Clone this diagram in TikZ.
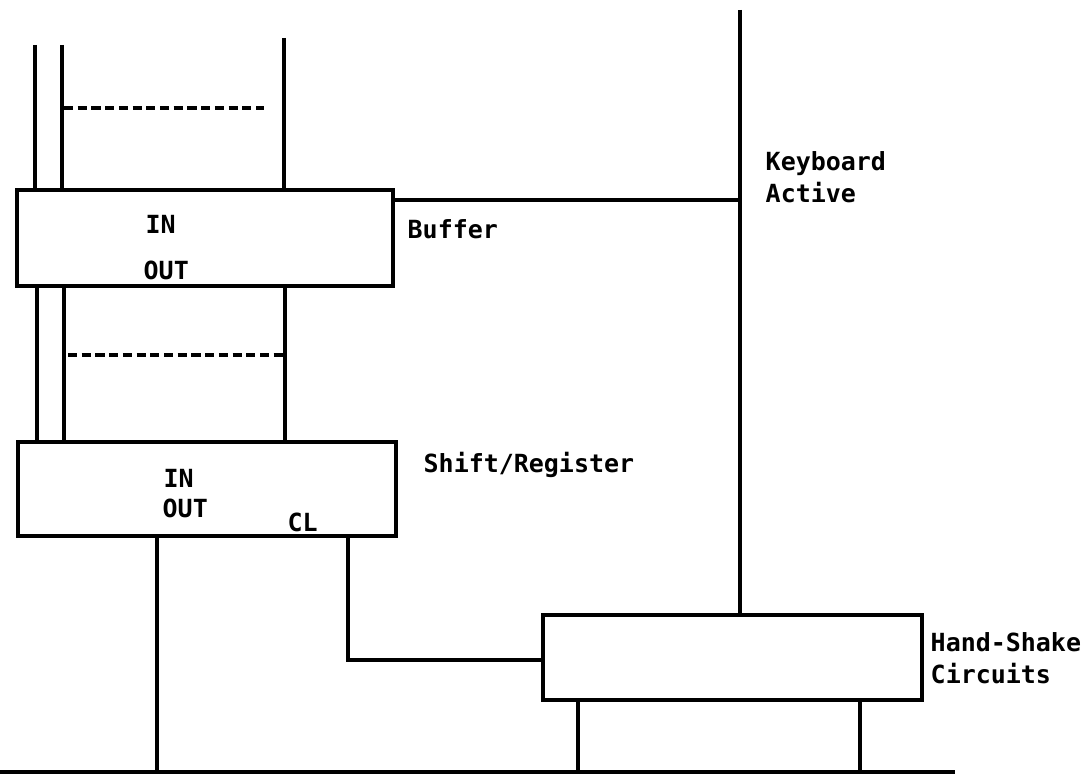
\documentclass[tikz,border=0pt]{standalone}
\usepackage{fontspec}
\setmonofont{DejaVu Sans Mono}
\begin{document}
\begin{tikzpicture}[x=0.01cm,y=-0.01cm,
  blk/.style={draw,line width=1.3pt,minimum width=#1,inner sep=0pt},
  wire/.style={line width=1pt},
  dsh/.style={line width=1.1pt,dash pattern=on 2.6pt off 1.3pt},
  lbl/.style={font=\ttfamily\bfseries\fontsize{7.1pt}{9pt}\selectfont,inner sep=0pt,anchor=west}]
\useasboundingbox (0,0) rectangle (1089,782);
% boxes
\node[blk=3.76cm,minimum height=0.96cm] (buf) at (205,238) {};
\node[blk=3.78cm,minimum height=0.94cm] (sr) at (207,489) {};
\node[blk=3.79cm,minimum height=0.85cm] (hs) at (732.5,657.5) {};
% texts
\node[lbl] (bin) at (145,224) {IN};
\node[lbl] (bout) at (143,270) {OUT};
\node[lbl] (sin) at (163,478) {IN};
\node[lbl] (sout) at (162,508) {OUT};
\node[lbl] (scl) at (287,522) {CL};
\node[lbl] (tbuf) at (407,229) {Buffer};
\node[lbl] (tsr) at (423,465) {Shift/Register};
\node[lbl,align=left] (tkb) at (765,177) {Keyboard\\Active};
\node[lbl,align=left] (ths) at (930,658) {Hand-Shake\\Circuits};
% free ends
\coordinate (a1) at (35,45);
\coordinate (a2) at (62,45);
\coordinate (a3) at (284,38);
\coordinate (d1s) at (64,108);
\coordinate (d1e) at (264,108);
\coordinate (b1) at (37,0);
\coordinate (b2) at (64,0);
\coordinate (b3) at (285,0);
\coordinate (d2s) at (68,355);
\coordinate (d2e) at (283,355);
\coordinate (kb) at (740,10);
\coordinate (kbj) at (740,200);
\coordinate (outx) at (157,0);
\coordinate (clx) at (348,0);
\coordinate (clc) at (348,660);
\coordinate (h1) at (578,0);
\coordinate (h2) at (860,0);
\coordinate (busL) at (0,772);
\coordinate (busR) at (955,772);
% wires above buffer
\draw[wire] (a1) -- (a1 |- buf.north);
\draw[wire] (a2) -- (a2 |- buf.north);
\draw[wire] (a3) -- (a3 |- buf.north);
\draw[dsh] (d1s) -- (d1e);
% wires between buffer and shift register
\draw[wire] (b1 |- buf.south) -- (b1 |- sr.north);
\draw[wire] (b2 |- buf.south) -- (b2 |- sr.north);
\draw[wire] (b3 |- buf.south) -- (b3 |- sr.north);
\draw[dsh] (d2s) -- (d2e);
% keyboard active line
\draw[wire] (kb) -- (kb |- hs.north);
\draw[wire] (buf.east |- kbj) -- (kbj);
% below shift register
\draw[wire] (outx |- sr.south) -- (outx |- busL);
\draw[wire] (clx |- sr.south) -- (clc) -- (clc -| hs.west);
% below hand-shake
\draw[wire] (h1 |- hs.south) -- (h1 |- busL);
\draw[wire] (h2 |- hs.south) -- (h2 |- busL);
% bus
\draw[line width=1.3pt] (busL) -- (busR);
\end{tikzpicture}
\end{document}
